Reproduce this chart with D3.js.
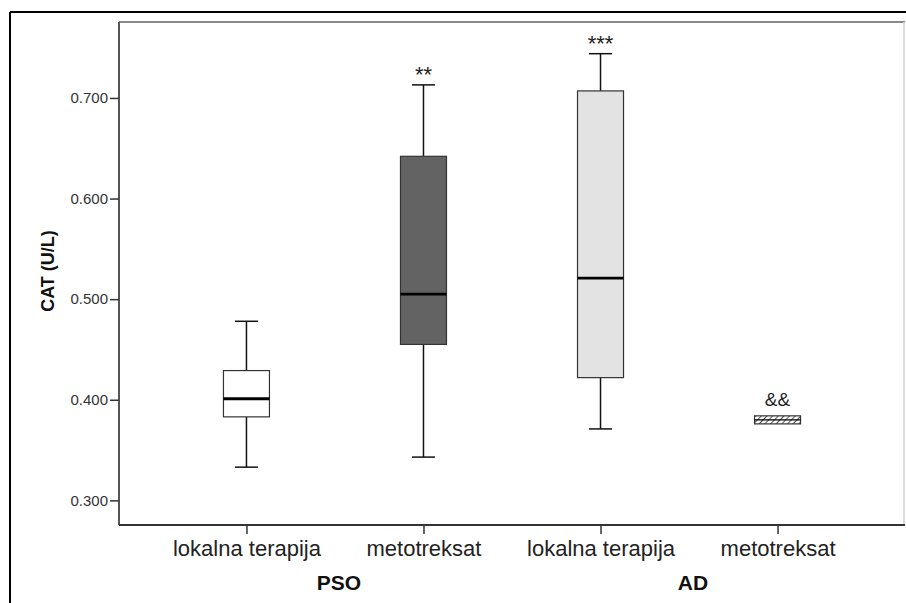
<!DOCTYPE html>
<html>
<head>
<meta charset="utf-8">
<script src="https://cdn.jsdelivr.net/npm/d3@7"></script>
<style>
  html, body { margin: 0; padding: 0; background: #fff; }
  svg { display: block; font-family: "Liberation Sans", Arial, sans-serif; }
</style>
</head>
<body>
<svg id="chart" width="906" height="603"></svg>
<script>
// Treatment groups along the x axis
const categories = ["lokalna terapija", "metotreksat", "lokalna terapija", "metotreksat"];
const groups = ["PSO", "AD"];
const groupOf = ["PSO", "PSO", "AD", "AD"];

// Box-plot statistics for CAT (U/L)
const whiskerLow  = [0.333, 0.343, 0.371, 0.380];
const q1          = [0.383, 0.455, 0.422, 0.376];
const median      = [0.401, 0.505, 0.521, 0.380];
const q3          = [0.429, 0.642, 0.707, 0.384];
const whiskerHigh = [0.478, 0.713, 0.744, 0.380];

// Significance marks above each box
const marks = ["", "**", "***", "&&"];

// Y axis ticks
const yTicks = [0.3, 0.4, 0.5, 0.6, 0.7];

const fills = ["#ffffff", "#636363", "#e3e3e3", "url(#hatch)"];

const svg = d3.select("#chart");
const plot = { left: 119, right: 905, top: 22, bottom: 525 };

// Hatch pattern for the last box
const defs = svg.append("defs");
const pat = defs.append("pattern")
  .attr("id", "hatch")
  .attr("patternUnits", "userSpaceOnUse")
  .attr("width", 4).attr("height", 4)
  .attr("patternTransform", "rotate(45)");
pat.append("rect").attr("width", 4).attr("height", 4).attr("fill", "#fff");
pat.append("line").attr("x1", 0).attr("y1", 0).attr("x2", 0).attr("y2", 4)
  .attr("stroke", "#222").attr("stroke-width", 1.6);

// Outer frame
svg.append("line").attr("x1", 10).attr("y1", 12).attr("x2", 906).attr("y2", 12)
  .attr("stroke", "#000").attr("stroke-width", 2);
svg.append("line").attr("x1", 10).attr("y1", 12).attr("x2", 10).attr("y2", 603)
  .attr("stroke", "#000").attr("stroke-width", 2);

// Scales
const y = d3.scaleLinear().domain([0.2755, 0.7755]).range([plot.bottom, plot.top]);
const idx = d3.range(categories.length);
const x = d3.scalePoint().domain(idx).range([plot.left, plot.right]).padding(0.72);
const boxW = 46;

// Plot frame
svg.append("line").attr("x1", plot.left).attr("y1", plot.top).attr("x2", plot.right).attr("y2", plot.top)
  .attr("stroke", "#8a8a8a").attr("stroke-width", 2);
svg.append("line").attr("x1", plot.right - 1).attr("y1", plot.top).attr("x2", plot.right - 1).attr("y2", plot.bottom)
  .attr("stroke", "#d0d0d0").attr("stroke-width", 1.5);
svg.append("line").attr("x1", plot.left).attr("y1", plot.top).attr("x2", plot.left).attr("y2", plot.bottom)
  .attr("stroke", "#555").attr("stroke-width", 2);
svg.append("line").attr("x1", plot.left).attr("y1", plot.bottom).attr("x2", plot.right).attr("y2", plot.bottom)
  .attr("stroke", "#333").attr("stroke-width", 2);

// Y axis
const yAxis = d3.axisLeft(y).tickValues(yTicks).tickFormat(d3.format(".3f")).tickSize(9).tickPadding(2);
const gy = svg.append("g").attr("transform", `translate(${plot.left},0)`).call(yAxis);
gy.select(".domain").remove();
gy.selectAll(".tick line").attr("stroke", "#333").attr("stroke-width", 1.5);
gy.selectAll(".tick text").attr("fill", "#333").attr("font-size", 15)
  .attr("font-family", "Liberation Sans, Arial, sans-serif");

// X axis
const xAxis = d3.axisBottom(x).tickFormat(i => categories[i]).tickSize(9).tickPadding(6);
const gx = svg.append("g").attr("transform", `translate(0,${plot.bottom})`).call(xAxis);
gx.select(".domain").remove();
gx.selectAll(".tick line").attr("stroke", "#333").attr("stroke-width", 1.5);
gx.selectAll(".tick text").attr("fill", "#222").attr("font-size", 22)
  .attr("font-family", "Liberation Sans, Arial, sans-serif");

// Group labels beneath the categories
groups.forEach(g => {
  const members = idx.filter(i => groupOf[i] === g);
  const cx = d3.mean(members, i => x(i));
  svg.append("text").attr("x", cx + 4).attr("y", 590)
    .attr("text-anchor", "middle").attr("font-size", 21).attr("font-weight", "bold")
    .attr("fill", "#111").text(g);
});

// Y axis title
svg.append("text")
  .attr("transform", "translate(54,271) rotate(-90)")
  .attr("text-anchor", "middle").attr("font-size", 18).attr("font-weight", "bold")
  .attr("fill", "#111").text("CAT (U/L)");

// Boxes
const boxes = svg.append("g");
idx.forEach(i => {
  const cx = x(i);
  const g = boxes.append("g");
  if (whiskerHigh[i] > q3[i]) {
    g.append("line").attr("x1", cx).attr("x2", cx).attr("y1", y(q3[i])).attr("y2", y(whiskerHigh[i]))
      .attr("stroke", "#111").attr("stroke-width", 1.5);
    g.append("line").attr("x1", cx - boxW / 4).attr("x2", cx + boxW / 4)
      .attr("y1", y(whiskerHigh[i])).attr("y2", y(whiskerHigh[i]))
      .attr("stroke", "#111").attr("stroke-width", 1.5);
  }
  if (whiskerLow[i] < q1[i]) {
    g.append("line").attr("x1", cx).attr("x2", cx).attr("y1", y(q1[i])).attr("y2", y(whiskerLow[i]))
      .attr("stroke", "#111").attr("stroke-width", 1.5);
    g.append("line").attr("x1", cx - boxW / 4).attr("x2", cx + boxW / 4)
      .attr("y1", y(whiskerLow[i])).attr("y2", y(whiskerLow[i]))
      .attr("stroke", "#111").attr("stroke-width", 1.5);
  }
  g.append("rect").attr("x", cx - boxW / 2).attr("width", boxW)
    .attr("y", y(q3[i])).attr("height", y(q1[i]) - y(q3[i]))
    .attr("fill", fills[i]).attr("stroke", "#333").attr("stroke-width", 1.2);
  g.append("line").attr("x1", cx - boxW / 2).attr("x2", cx + boxW / 2)
    .attr("y1", y(median[i])).attr("y2", y(median[i]))
    .attr("stroke", "#000").attr("stroke-width", i === 3 ? 1.2 : 2.8);

  if (marks[i]) {
    const top = Math.max(whiskerHigh[i], q3[i]);
    const isStar = marks[i].startsWith("*");
    g.append("text").attr("x", cx).attr("y", y(top) - (isStar ? 2.5 : 10))
      .attr("text-anchor", "middle").attr("font-size", isStar ? 22 : 19)
      .attr("fill", "#222").text(marks[i]);
  }
});
</script>
</body>
</html>
